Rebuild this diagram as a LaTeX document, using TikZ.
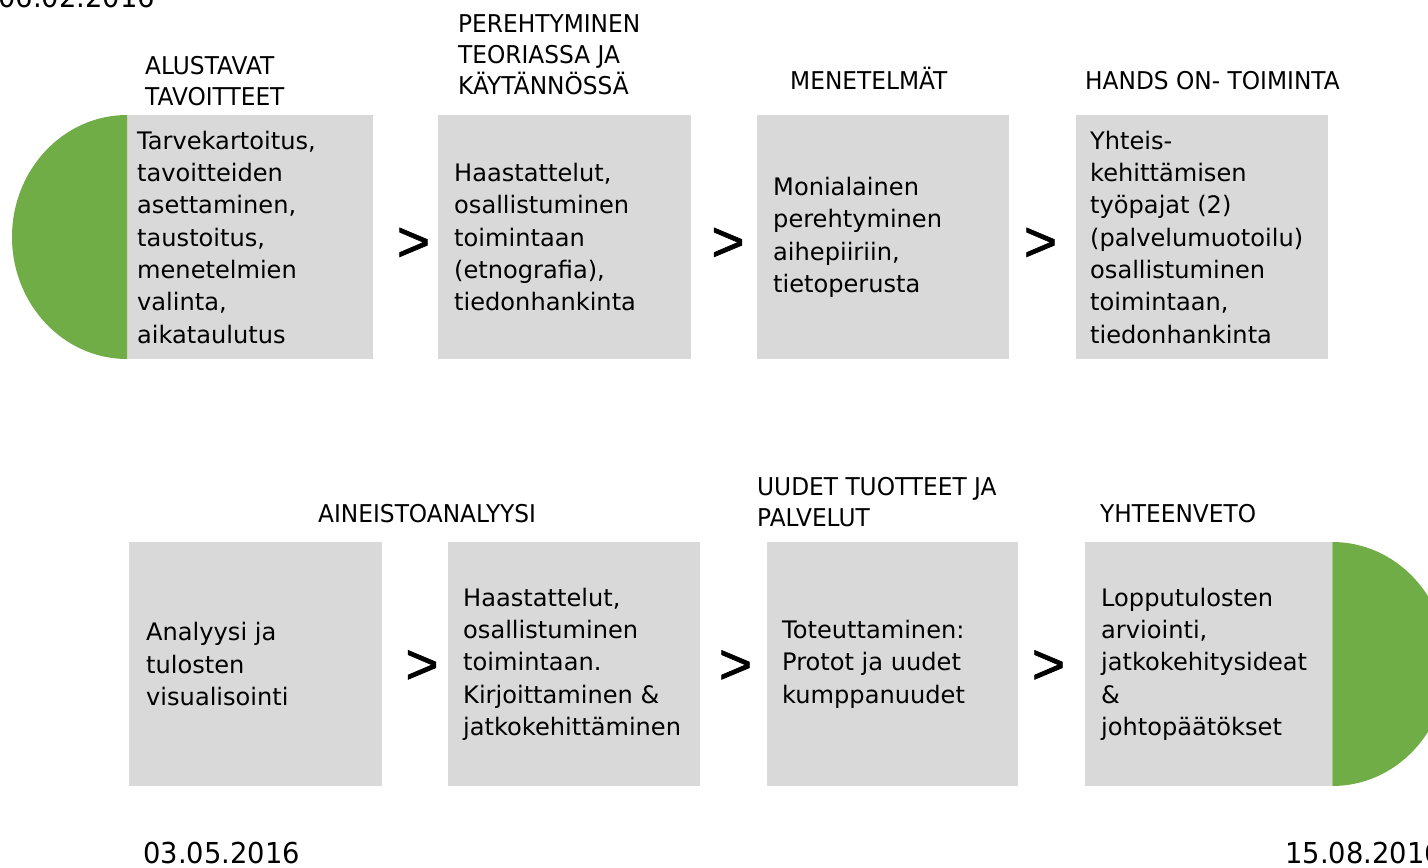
\documentclass[tikz,border=0pt]{standalone}
\usepackage{fontspec}
\setmainfont{DejaVu Sans}
\newfontfamily\hdrfont{DejaVu Sans}[FakeStretch=0.95]
\newfontfamily\gtfont{Liberation Sans}[FakeBold=1.2]
\definecolor{boxgray}{HTML}{D9D9D9}
\definecolor{phasegreen}{HTML}{70AD47}
\tikzset{
  stagebox/.style={rectangle, fill=boxgray, draw=none, inner sep=0, anchor=north west},
  bodytext/.style={font=\fontsize{24.1}{32.3}\selectfont, align=left, anchor=west, inner sep=0},
  hdrtext/.style={font=\hdrfont\fontsize{24.5}{31}\selectfont, align=left, anchor=base west, inner sep=0},
  gtsign/.style={font=\gtfont\fontsize{57}{57}\selectfont, inner sep=0},
  datetext/.style={font=\hdrfont\fontsize{28.8}{30}\selectfont, anchor=base west, inner sep=0},
  halfdisc/.style={fill=phasegreen, draw=none}
}
\begin{document}
\begin{tikzpicture}[x=1pt, y=-1pt]
\useasboundingbox (0,0) rectangle (1428,868);
\fill[white] (0,0) rectangle (1428,868);

% top row boxes
\node[stagebox, minimum width=246, minimum height=244] (b1) at (127,115) {};
\node[stagebox, minimum width=253, minimum height=244] (b2) at (438,115) {};
\node[stagebox, minimum width=252, minimum height=244] (b3) at (757,115) {};
\node[stagebox, minimum width=252, minimum height=244] (b4) at (1076,115) {};
% bottom row boxes
\node[stagebox, minimum width=253, minimum height=244] (b5) at (129,542) {};
\node[stagebox, minimum width=252, minimum height=244] (b6) at (448,542) {};
\node[stagebox, minimum width=251, minimum height=244] (b7) at (767,542) {};
\node[stagebox, minimum width=247, minimum height=244] (b8) at (1085,542) {};

% green half discs
\fill[halfdisc] (b1.north west) arc[start angle=-90, end angle=-270, x radius=115, y radius=122] -- cycle;
\fill[halfdisc] (b8.north east) arc[start angle=-90, end angle=90, x radius=115, y radius=122] -- cycle;

% box texts
\node[bodytext] (t1) at ([xshift=10]b1.west) {Tarvekartoitus,\\tavoitteiden\\asettaminen,\\taustoitus,\\menetelmien\\valinta,\\aikataulutus};
\node[bodytext] (t2) at ([xshift=16]b2.west) {Haastattelut,\\osallistuminen\\toimintaan\\(etnografia),\\tiedonhankinta};
\node[bodytext] (t3) at ([xshift=16]b3.west) {Monialainen\\perehtyminen\\aihepiiriin,\\tietoperusta};
\node[bodytext] (t4) at ([xshift=14]b4.west) {Yhteis-\\kehittämisen\\työpajat (2)\\(palvelumuotoilu)\\osallistuminen\\toimintaan,\\tiedonhankinta};
\node[bodytext] (t5) at ([xshift=17]b5.west) {Analyysi ja\\tulosten\\visualisointi};
\node[bodytext] (t6) at ([xshift=15]b6.west) {Haastattelut,\\osallistuminen\\toimintaan.\\Kirjoittaminen \&\\jatkokehittäminen};
\node[bodytext] (t7) at ([xshift=15]b7.west) {Toteuttaminen:\\Protot ja uudet\\kumppanuudet};
\node[bodytext] (t8) at ([xshift=16]b8.west) {Lopputulosten\\arviointi,\\jatkokehitysideat\\\&\\johtopäätökset};

% headers (anchor = baseline of last line)
\node[hdrtext] (h1) at (145,105) {ALUSTAVAT\\TAVOITTEET};
\node[hdrtext] (h2) at (458,94) {PEREHTYMINEN\\TEORIASSA JA\\KÄYTÄNNÖSSÄ};
\node[hdrtext] (h3) at (790,89) {MENETELMÄT};
\node[hdrtext] (h4) at (1085,89) {HANDS ON- TOIMINTA};
\node[hdrtext] (h5) at (318,522) {AINEISTOANALYYSI};
\node[hdrtext] (h6) at (757,526) {UUDET TUOTTEET JA\\PALVELUT};
\node[hdrtext] (h7) at (1100,522) {YHTEENVETO};

% > signs
\node[gtsign] (g1) at (413.5,244.5) {>};
\node[gtsign] (g2) at (728,244.5) {>};
\node[gtsign] (g3) at (1040.5,244.5) {>};
\node[gtsign] (g4) at (422,667) {>};
\node[gtsign] (g5) at (735.5,667) {>};
\node[gtsign] (g6) at (1048.5,667) {>};

% dates
\node[datetext] (d1) at (-2,7) {06.02.2016};
\node[datetext] (d2) at (143,863) {03.05.2016};
\node[datetext] (d3) at (1285,863) {15.08.2016};
\end{tikzpicture}
\end{document}
